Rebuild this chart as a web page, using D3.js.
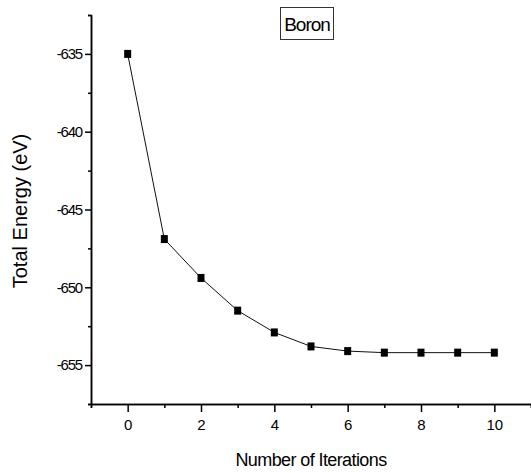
<!DOCTYPE html>
<html>
<head>
  <meta charset="utf-8">
  <title>Boron total energy</title>
  <script src="https://cdn.jsdelivr.net/npm/d3@7"></script>
  <style>
    body { margin: 0; background: #fff; }
    svg { font-family: "Liberation Sans", Arial, sans-serif; }
    .axis path, .axis line { stroke: #000; stroke-width: 1.5; fill: none; }
    .ylab text { font-size: 15px; letter-spacing: -1.2px; fill: #000; }
    .xlab text { font-size: 15px; fill: #000; }
    .curve { fill: none; stroke: #111; stroke-width: 1; }
    .marker { fill: #000; }
  </style>
</head>
<body>
<script>
  // data
  var iterations = [0, 1, 2, 3, 4, 5, 6, 7, 8, 9, 10];
  var energy = [-635.0, -646.9, -649.4, -651.5, -652.9, -653.8, -654.1, -654.2, -654.2, -654.2, -654.2];
  var xTicks = [0, 2, 4, 6, 8, 10];
  var xMinor = [-1, 1, 3, 5, 7, 9, 11];
  var yTicks = [-655, -650, -645, -640, -635];
  var yMinor = [-657.5, -652.5, -647.5, -642.5, -637.5, -632.5];
  var title = "Boron";

  var width = 531, height = 473;
  var svg = d3.select("body").append("svg")
      .attr("width", width)
      .attr("height", height);

  var x = d3.scaleLinear().domain([-1, 11]).range([91, 531]);
  var y = d3.scaleLinear().domain([-657.5, -632.5]).range([404, 15]);

  // plain hyphen instead of d3's unicode minus
  var plain = function(d) { return String(d); };

  // minor ticks first, no labels
  svg.append("g")
      .attr("class", "axis")
      .attr("transform", "translate(0,404)")
      .call(d3.axisBottom(x).tickValues(xMinor).tickSize(4).tickFormat(""));
  svg.append("g")
      .attr("class", "axis")
      .attr("transform", "translate(91,0)")
      .call(d3.axisLeft(y).tickValues(yMinor).tickSize(3).tickFormat(""));

  // major ticks with labels
  svg.append("g")
      .attr("class", "axis xlab")
      .attr("transform", "translate(0,404)")
      .call(d3.axisBottom(x).tickValues(xTicks).tickSize(8).tickPadding(7)
            .tickSizeOuter(0).tickFormat(plain));
  svg.append("g")
      .attr("class", "axis ylab")
      .attr("transform", "translate(91,0)")
      .call(d3.axisLeft(y).tickValues(yTicks).tickSize(6).tickPadding(3)
            .tickSizeOuter(0).tickFormat(plain));

  // line + square markers
  var pts = iterations.map(function(d, i) { return [d, energy[i]]; });
  var line = d3.line()
      .x(function(d) { return x(d[0]); })
      .y(function(d) { return y(d[1]); });

  svg.append("path")
      .datum(pts)
      .attr("class", "curve")
      .attr("d", line);

  svg.selectAll("rect.marker")
      .data(pts)
      .enter()
      .append("rect")
      .attr("class", "marker")
      .attr("x", function(d) { return x(d[0]) - 3.5; })
      .attr("y", function(d) { return y(d[1]) - 4; })
      .attr("width", 7)
      .attr("height", 8);

  // axis titles
  svg.append("text")
      .attr("x", 311)
      .attr("y", 466)
      .attr("text-anchor", "middle")
      .style("font-size", "18px")
      .style("letter-spacing", "-0.6px")
      .text("Number of Iterations");

  svg.append("text")
      .attr("transform", "translate(27,211) rotate(-90)")
      .attr("text-anchor", "middle")
      .style("font-size", "20px")
      .text("Total Energy (eV)");

  // boxed title
  svg.append("rect")
      .attr("x", 280.5)
      .attr("y", 7.5)
      .attr("width", 53)
      .attr("height", 32)
      .attr("fill", "none")
      .attr("stroke", "#333")
      .attr("stroke-width", 1);

  svg.append("text")
      .attr("x", 307)
      .attr("y", 31)
      .attr("text-anchor", "middle")
      .style("font-size", "19px")
      .style("letter-spacing", "-1px")
      .text(title);
</script>
</body>
</html>
